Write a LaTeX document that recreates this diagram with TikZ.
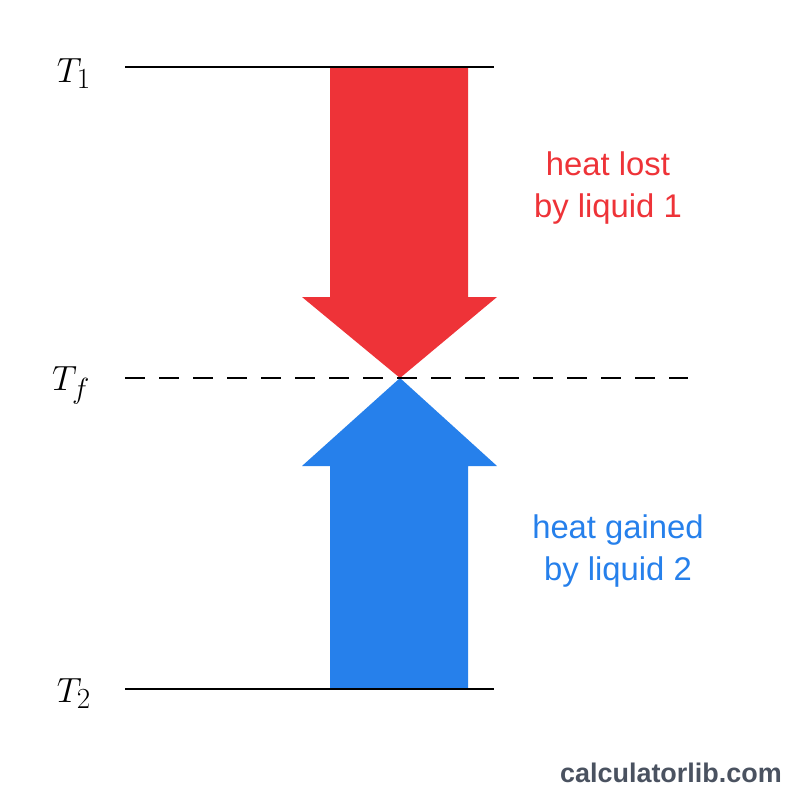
\documentclass[tikz,border=0pt]{standalone}
\usepackage{amsmath}
\usepackage{graphicx}
\usepackage{fontspec}
\setsansfont{Liberation Sans}
\usepackage{tikz}

\definecolor{lostred}{RGB}{238,51,56}
\definecolor{gainblue}{RGB}{38,128,235}
\definecolor{markgray}{RGB}{74,82,96}

\newcommand{\tlabel}[1]{\scalebox{1.2}{$#1$}}

\begin{document}
\begin{tikzpicture}[x=0.03cm,y=-0.03cm]
  \tikzstyle{level}=[line width=2pt,black]
  \tikzstyle{temp}=[font=\fontsize{24.88}{30}\selectfont,inner sep=0pt,anchor=base]
  \tikzstyle{heat}=[font=\sffamily\fontsize{28}{35.7}\selectfont,align=center,inner sep=0pt,anchor=base]
  \useasboundingbox (0,0) rectangle (800,800);

  \coordinate (L1) at (125,67);  \coordinate (R1) at (494,67);
  \coordinate (Lf) at (125,378); \coordinate (Rf) at (688,378);
  \coordinate (L2) at (125,689); \coordinate (R2) at (494,689);
  \coordinate (tip) at (400,378);

  % arrows
  \fill[lostred] (330,67) -- (468,67) -- (468,297) -- (497,297) -- (tip)
    -- (302,297) -- (330,297) -- cycle;
  \fill[gainblue] (330,689) -- (468,689) -- (468,466) -- (497,466) -- (tip)
    -- (302,466) -- (330,466) -- cycle;

  \draw[level] (L1) -- (R1);
  \draw[level] (L2) -- (R2);
  \draw[level,dash pattern=on 0.6cm off 0.42cm] (Lf) -- (Rf);

  \node[temp] (T1) at (74,82)  {\tlabel{T_1}};
  \node[temp] (Tf) at (71,390) {\tlabel{T_f}};
  \node[temp] (T2) at (74,702) {\tlabel{T_2}};

  \node[heat,text=lostred] (lost) at (608,217) {heat lost\\by liquid 1};
  \node[heat,text=gainblue] (gain) at (618,580) {heat gained\\by liquid 2};

  \node[font=\sffamily\bfseries\fontsize{23}{26}\selectfont,text=markgray,anchor=base east,inner sep=0pt] (site) at (782,782) {calculatorlib.com};
\end{tikzpicture}
\end{document}
